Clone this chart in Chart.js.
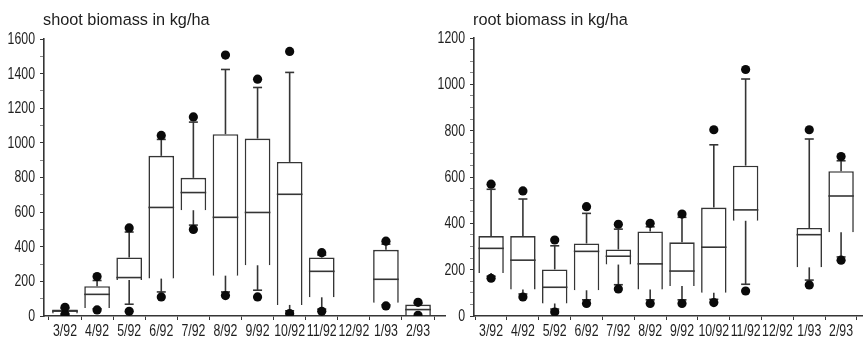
<!DOCTYPE html>
<html>
<head>
<meta charset="utf-8">
<script src="https://cdn.jsdelivr.net/npm/chart.js@4.4.1/dist/chart.umd.min.js"></script>
<style>
  html, body { margin: 0; padding: 0; background: #fff; }
  #wrap { position: relative; width: 867px; height: 338px; }
  canvas { position: absolute; top: 0; }
</style>
</head>
<body>
<div id="wrap">
  <canvas id="shootChart" width="450" height="338" style="left:0"></canvas>
  <canvas id="rootChart" width="437" height="338" style="left:430px"></canvas>
</div>
<script>
const months = ['3/92', '4/92', '5/92', '6/92', '7/92', '8/92', '9/92', '10/92', '11/92', '12/92', '1/93', '2/93'];

// shoot biomass, kg/ha (no sample in 12/92)
const shootLow    = [8, 35, 27, 110, 500, 118, 110, 14, 27, null, 58, 4];
const shootWhLo   = [12, 42, 68, 139, 525, 139, 149, 30, 40, null, 65, 4];
const shootQ1     = [15, 46, 208, 216, 611, 233, 293, 64, 108, null, 77, 4];
const shootMedian = [28, 125, 222, 627, 713, 570, 598, 703, 258, null, 212, 37];
const shootQ3     = [38, 172, 338, 925, 798, 1050, 1025, 890, 338, null, 382, 66];
const shootWhHi   = [44, 205, 485, 1020, 1120, 1424, 1320, 1407, 352, null, 415, 72];
const shootHigh   = [50, 228, 509, 1043, 1150, 1507, 1368, 1528, 366, null, 432, 79];

// root biomass, kg/ha
const rootLow    = [163, 82, 17, 54, 117, 54, 54, 58, 108, null, 134, 241];
const rootWhLo   = [172, 95, 30, 70, 135, 70, 70, 72, 137, null, 155, 255];
const rootQ1     = [186, 114, 54, 111, 222, 114, 130, 100, 411, null, 210, 362];
const rootMedian = [292, 241, 124, 279, 258, 225, 194, 297, 458, null, 351, 518];
const rootQ3     = [345, 345, 201, 313, 287, 365, 318, 468, 649, null, 380, 625];
const rootWhHi   = [547, 505, 303, 443, 375, 385, 426, 739, 1023, null, 764, 670];
const rootHigh   = [569, 540, 328, 472, 396, 400, 440, 804, 1064, null, 804, 688];

const LINE = '#353535';
const TEXT = '#1e1e1e';

// whiskers, caps and median lines on top of the boxes
const boxPlotLines = {
  id: 'boxPlotLines',
  afterDatasetDraw(chart, args, opts) {
    if (args.index !== 1) return;
    const { ctx, scales: { x, y } } = chart;
    const half = args.meta.data[0].width / 2;
    const cap = 4.5;
    ctx.save();
    ctx.strokeStyle = LINE;
    ctx.lineWidth = 1.6;
    const seg = (x1, y1, x2, y2) => {
      ctx.beginPath();
      ctx.moveTo(x1, y1);
      ctx.lineTo(x2, y2);
      ctx.stroke();
    };
    opts.median.forEach((m, i) => {
      if (m == null) return;
      const px = x.getPixelForValue(i);
      if (opts.hi[i] > opts.q3[i]) {
        seg(px, y.getPixelForValue(opts.q3[i]), px, y.getPixelForValue(opts.hi[i]));
        seg(px - cap, y.getPixelForValue(opts.hi[i]), px + cap, y.getPixelForValue(opts.hi[i]));
      }
      if (opts.lo[i] < opts.q1[i]) {
        seg(px, y.getPixelForValue(opts.q1[i]), px, y.getPixelForValue(opts.lo[i]));
        seg(px - cap, y.getPixelForValue(opts.lo[i]), px + cap, y.getPixelForValue(opts.lo[i]));
      }
      seg(px - half, y.getPixelForValue(m), px + half, y.getPixelForValue(m));
    });
    ctx.restore();
  }
};

// tick labels in a narrow face: regular sans squeezed horizontally
const narrowTicks = {
  id: 'narrowTicks',
  afterDraw(chart) {
    const { ctx, scales: { x, y } } = chart;
    const put = (text, px, py, align) => {
      ctx.save();
      ctx.translate(px, py);
      ctx.scale(0.77, 1);
      ctx.textAlign = align;
      ctx.fillText(text, 0, 0);
      ctx.restore();
    };
    ctx.save();
    ctx.font = '16px "Liberation Sans", Arial, sans-serif';
    ctx.fillStyle = TEXT;
    ctx.textBaseline = 'middle';
    y.ticks.forEach((t, i) => {
      if (t.label !== '') put(String(t.label), y.right - 9, y.getPixelForTick(i) + 0.5, 'right');
    });
    x.ticks.forEach((t, i) => {
      if (t.label !== '') put(String(t.label), x.getPixelForTick(i), x.top + 15.5, 'center');
    });
    ctx.restore();
  }
};

// panel heading, left-aligned on the y axis
const panelTitle = {
  id: 'panelTitle',
  afterDraw(chart, args, opts) {
    const { ctx, chartArea } = chart;
    ctx.save();
    ctx.font = '16.3px "Liberation Sans", Arial, sans-serif';
    ctx.fillStyle = TEXT;
    ctx.textBaseline = 'alphabetic';
    ctx.fillText(opts.text, chartArea.left - 1, 24.5);
    ctx.restore();
  }
};

function makePanel(id, p) {
  const boxes = [];
  const dots = [];
  months.forEach((_, i) => {
    if (p.q1[i] == null) return;
    boxes.push({ x: i, y: [p.q1[i], p.q3[i]] });
    dots.push({ x: i, y: p.low[i] }, { x: i, y: p.high[i] });
  });

  return new Chart(document.getElementById(id), {
    type: 'bar',
    data: {
      datasets: [
        {
          type: 'scatter',
          data: dots,
          pointRadius: 4.6,
          pointBackgroundColor: '#0a0a0a',
          pointBorderWidth: 0
        },
        {
          type: 'bar',
          data: boxes,
          backgroundColor: '#fff',
          borderColor: LINE,
          borderWidth: 1.6,
          barPercentage: 1,
          categoryPercentage: 0.8
        }
      ]
    },
    options: {
      responsive: false,
      animation: false,
      layout: { padding: { top: p.top, right: p.right, left: 0, bottom: 0 } },
      plugins: {
        legend: { display: false },
        tooltip: { enabled: false },
        panelTitle: { text: p.title },
        boxPlotLines: { lo: p.whLo, q1: p.q1, median: p.median, q3: p.q3, hi: p.whHi }
      },
      scales: {
        x: {
          type: 'linear',
          offset: false,
          min: p.xMin,
          max: p.xMax,
          afterBuildTicks: s => { s.ticks = months.map((_, i) => ({ value: i })); },
          afterFit: s => { s.height = 22; },
          grid: { drawOnChartArea: false, tickLength: 4, tickColor: LINE, tickWidth: 1 },
          border: { color: LINE, width: 1.6 },
          ticks: { display: false, autoSkip: false, callback: v => months[v] }
        },
        y: {
          min: 0,
          max: p.yMax,
          afterFit: s => { s.width = 44; },
          grid: {
            drawOnChartArea: false,
            tickLength: 4,
            tickWidth: 1,
            tickColor: c => (c.tick.value % p.major === 0 ? LINE : '#8a8a8a')
          },
          border: { color: LINE, width: 1.6 },
          ticks: {
            display: false,
            stepSize: p.minor,
            callback: v => (v % p.major === 0 ? String(v) : '')
          }
        }
      }
    },
    plugins: [boxPlotLines, narrowTicks, panelTitle]
  });
}

makePanel('shootChart', {
  title: 'shoot biomass in kg/ha',
  low: shootLow, whLo: shootWhLo, q1: shootQ1, median: shootMedian,
  q3: shootQ3, whHi: shootWhHi, high: shootHigh,
  yMax: 1600, major: 200, minor: 100,
  xMin: -0.654, xMax: 11.84, top: 39, right: 5
});

makePanel('rootChart', {
  title: 'root biomass in kg/ha',
  low: rootLow, whLo: rootWhLo, q1: rootQ1, median: rootMedian,
  q3: rootQ3, whHi: rootWhHi, high: rootHigh,
  yMax: 1200, major: 200, minor: 50,
  xMin: -0.537, xMax: 11.67, top: 38, right: 0
});
</script>
</body>
</html>
